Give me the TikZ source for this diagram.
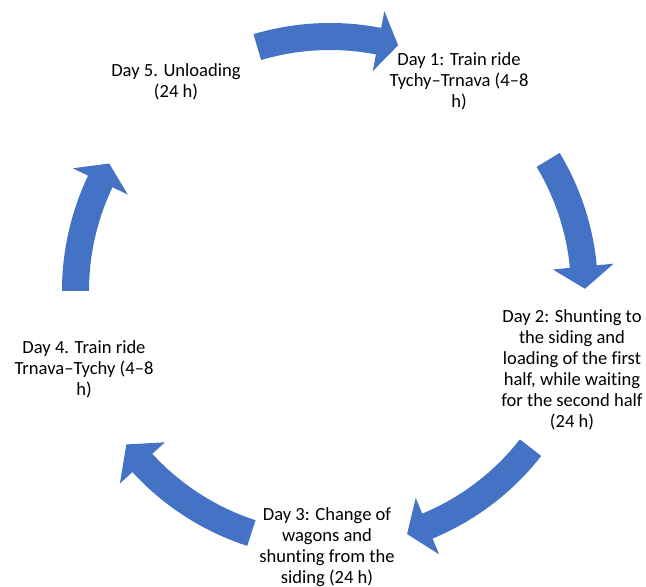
\documentclass[tikz,border=0pt]{standalone}
\usepackage{fontspec}
\setmainfont{Carlito}[Ligatures=NoCommon]
\usepackage{xcolor}
\usepackage{tikz}
\definecolor{arrowblue}{HTML}{4472C4}

\begin{document}
\begin{tikzpicture}[x=0.625pt, y=0.625pt, font=\fontsize{11.6}{13.2}\selectfont,
		stage/.style={align=center, inner sep=0pt},
		cyclearrow/.style={fill=arrowblue}]
			
			\useasboundingbox (-330,-296) rectangle (316,291);
			
			% Stages
			\node[stage] (day1) at (129,210) {Day 1: Train ride\\Tychy--Trnava (4--8\\h)};
			\node[stage] (day2) at (242,-79) {Day 2: Shunting to\\the siding and\\loading of the first\\half, while waiting\\for the second half\\(24 h)};
			\node[stage] (day3) at (-3,-256) {Day 3: Change of\\wagons and\\shunting from the\\siding (24 h)};
			\node[stage] (day4) at (-246,-78) {Day 4. Train ride\\Trnava--Tychy (4--8\\h)};
			\node[stage] (day5) at (-154,209) {Day 5. Unloading\\(24 h)};
			
			% Day 5 to Day 1
			\fill[cyclearrow] (106.6:268) arc[start angle=106.6, end angle=79, radius=268] -- (79:285) -- (74.5:255) -- (79:224) -- (79:241) arc[start angle=79, end angle=106.6, radius=241] -- cycle;
			
			% Day 1 to Day 2
			\fill[cyclearrow] (31:268) arc[start angle=31, end angle=5.5, radius=268] -- (5.5:285) -- (0.5:255) -- (5.5:224) -- (5.5:241) arc[start angle=5.5, end angle=31, radius=241] -- cycle;
			
			% Day 2 to Day 3
			\fill[cyclearrow] (-38:268) arc[start angle=-38, end angle=-67.5, radius=268] -- (-67.5:285) -- (-72.4:255) -- (-67.5:224) -- (-67.5:241) arc[start angle=-67.5, end angle=-38, radius=241] -- cycle;
			
			% Day 3 to Day 4
			\fill[cyclearrow] (-108:268) arc[start angle=-108, end angle=-137.5, radius=268] -- (-137.5:285) -- (-143:255) -- (-137.5:224) -- (-137.5:241) arc[start angle=-137.5, end angle=-108, radius=241] -- cycle;
			
			% Day 4 to Day 5
			\fill[cyclearrow] (180:268) arc[start angle=180, end angle=154.5, radius=268] -- (154.5:285) -- (150:255) -- (154.5:224) -- (154.5:241) arc[start angle=154.5, end angle=180, radius=241] -- cycle;
			
		\end{tikzpicture}
\end{document}
